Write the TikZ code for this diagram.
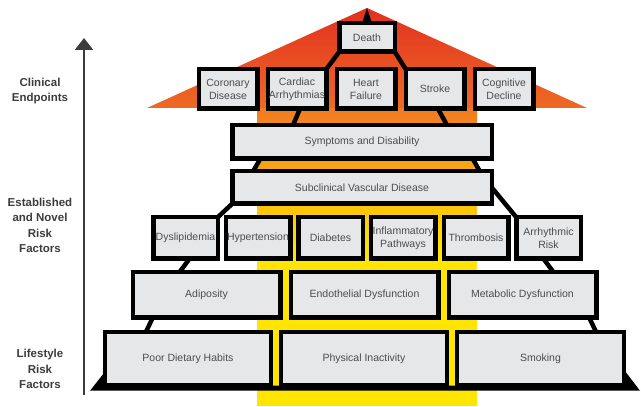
\documentclass[tikz,border=0pt]{standalone}
\usepackage{fontspec}
\setmainfont{Liberation Sans}
\usetikzlibrary{arrows.meta}

\definecolor{boxgray}{HTML}{E6E7E9}
\definecolor{textgray}{HTML}{4D4D4F}
\definecolor{labelgray}{HTML}{3C3C3C}
\definecolor{roofred}{HTML}{E2301F}
\definecolor{rooforange}{HTML}{EE6A24}
\definecolor{colorange}{HTML}{F07024}
\definecolor{collight}{HTML}{F6AD2A}
\definecolor{colyellow}{HTML}{FFE500}

\begin{document}
\begin{tikzpicture}[x=1pt,y=1pt,inner sep=1pt,outer sep=0pt,
	box/.style={rectangle, draw=black, line width=4.5pt, fill=boxgray, text=textgray, align=center, font=\fontsize{10.5}{13}\selectfont},
	deathbox/.style={box, minimum width=55.5pt, minimum height=28.5pt},
	endbox/.style={box, minimum width=58.5pt, minimum height=39.5pt},
	stagebox/.style={box, minimum width=259.5pt, minimum height=32.5pt},
	riskbox/.style={box, minimum width=64.5pt, minimum height=41.5pt},
	midbox/.style={box, minimum width=147.5pt, minimum height=45.5pt},
	basebox/.style={box, minimum width=166pt, minimum height=53.5pt},
	sidelabel/.style={align=center, text=labelgray, font=\bfseries\fontsize{11.5}{15.5}\selectfont},
	link/.style={black, line width=4.5pt},
	axisline/.style={draw=labelgray, line width=2.5pt, -{Triangle[width=18pt,length=12pt]}}]
	\useasboundingbox (0,0) rectangle (641,407);
	
	\coordinate (apex) at (367,399);
	\coordinate (axisbot) at (84,12);
	\coordinate (axistop) at (84,369);
	
	\fill[colyellow] (257,1) rectangle (477,158);
	\shade[top color=colorange, middle color=collight, bottom color=colyellow] (257,157) rectangle (477,312);
	\shade[top color=roofred, bottom color=rooforange] (apex) -- (587,299) -- (147,299) -- cycle;
	
	\node[deathbox] at (367,369.5) (death) {Death};
	
	\node[endbox] at (228,318) (coronary) {Coronary\\Disease};
	\node[endbox] at (297,318) (cardiac) {Cardiac\\Arrhythmias};
	\node[endbox] at (366,318) (heart) {Heart\\Failure};
	\node[endbox] at (435,318) (stroke) {Stroke};
	\node[endbox] at (504,318) (cognitive) {Cognitive\\Decline};
	
	\node[stagebox, minimum height=33.5pt] at (362,265) (symptoms) {Symptoms and Disability};
	\node[stagebox] at (362,219.5) (subclinical) {Subclinical Vascular Disease};
	
	\node[riskbox] at (185.5,169) (dys) {Dyslipidemia};
	\node[riskbox] at (258,169) (hyper) {Hypertension};
	\node[riskbox] at (330.5,169) (diab) {Diabetes};
	\node[riskbox] at (403,169) (inflam) {Inflammatory\\Pathways};
	\node[riskbox] at (476,169) (thromb) {Thrombosis};
	\node[riskbox] at (548.5,169) (arrh) {Arrhythmic\\Risk};
	
	\node[midbox] at (206.5,112) (adip) {Adiposity};
	\node[midbox] at (364.5,112) (endo) {Endothelial Dysfunction};
	\node[midbox] at (522.5,112) (metab) {Metabolic Dysfunction};
	
	\node[basebox] at (188,48) (poor) {Poor Dietary Habits};
	\node[basebox] at (364,48) (phys) {Physical Inactivity};
	\node[basebox, minimum width=167pt] at (540.5,48) (smoke) {Smoking};
	
	\node[sidelabel] at (40,316) (clinical) {Clinical\\Endpoints};
	\node[sidelabel] at (40,181.5) (established) {Established\\and Novel\\Risk\\Factors};
	\node[sidelabel] at (40,38) (lifestyle) {Lifestyle\\Risk\\Factors};
	
	\draw[axisline] (axisbot) -- (axistop);
	
	\fill[black] ([xshift=-5pt]death.north) -- (apex) -- ([xshift=5pt]death.north) -- cycle;
	\fill[black] ([xshift=-15pt,yshift=-5pt]poor.south west) -- ([yshift=14pt]poor.south west) -- (poor.south west) -- (smoke.south east) -- ([yshift=16pt]smoke.south east) -- ([xshift=16pt,yshift=-5pt]smoke.south east) -- cycle;
	
	\draw[link] (death.south west) -- (cardiac.north east);
	\draw[link] (death.south east) -- (stroke.north west);
	
	\draw[link] ([xshift=3pt]cardiac.south) -- ([xshift=-4pt]cardiac.south |- symptoms.north);
	\draw[link] ([xshift=3pt]stroke.south) -- ([xshift=12pt]stroke.south |- symptoms.north);
	
	\draw[link] ([xshift=28pt]symptoms.south west) -- ([xshift=21pt]subclinical.north west);
	\draw[link] ([xshift=-19pt]symptoms.south east) -- ([xshift=-12pt]subclinical.north east);
	
	\draw[link] (subclinical.south west) -- (dys.north east);
	\draw[link] (subclinical.east) -- (arrh.north west);
	
	\draw[link] ([xshift=4pt]dys.south) -- ([xshift=-6pt]dys.south |- adip.north);
	\draw[link] ([xshift=-5pt]arrh.south) -- ([xshift=5pt]arrh.south |- metab.north);
	
	\draw[link] ([xshift=20pt]adip.south west) -- ([xshift=13pt]adip.south west |- poor.north);
	\draw[link] ([xshift=-7pt]metab.south east) -- (metab.south east |- smoke.north);
\end{tikzpicture}
\end{document}
